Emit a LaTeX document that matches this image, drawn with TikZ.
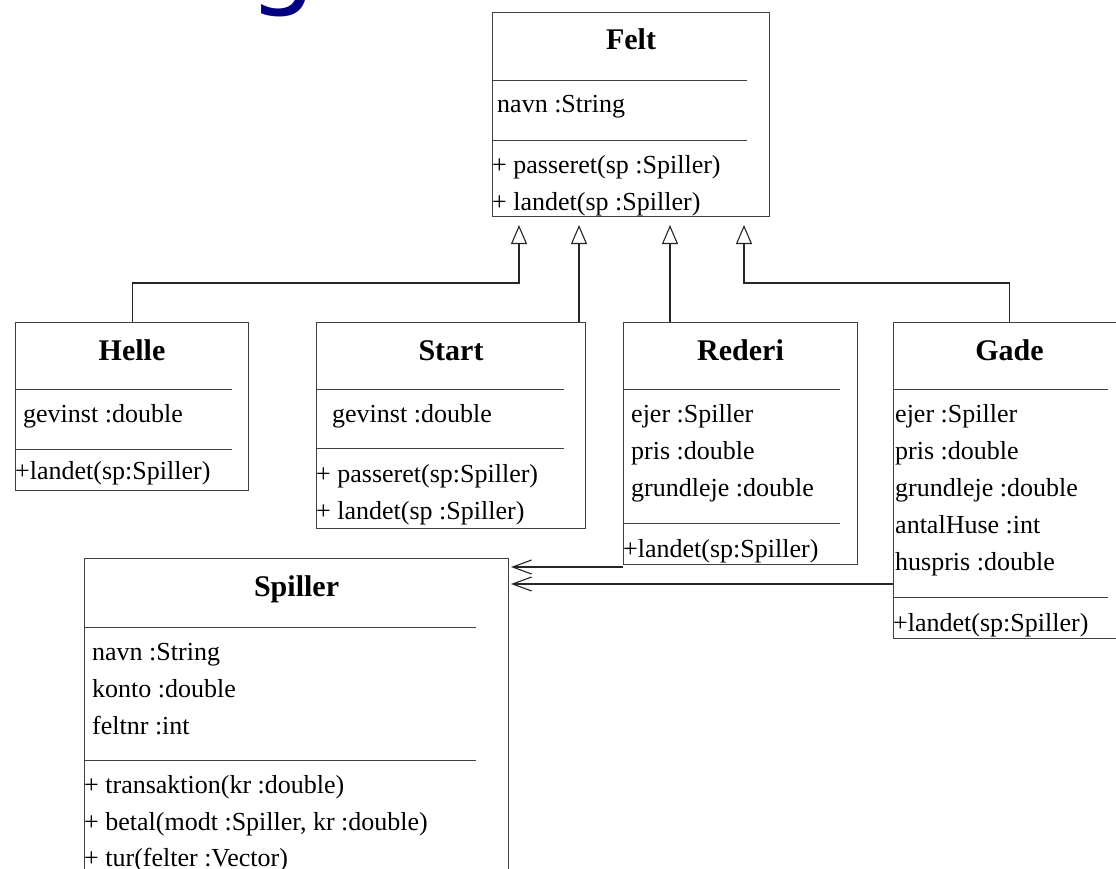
\documentclass[tikz,border=0pt]{standalone}
\usepackage{fontspec}
\setmainfont{LiberationSerif}[Extension=.ttf,UprightFont=*-Regular,BoldFont=*-Bold,ItalicFont=*-Italic,BoldItalicFont=*-BoldItalic]
\newfontfamily\headfont{DejaVu Sans}
\usetikzlibrary{arrows.meta}
\definecolor{headblue}{RGB}{0,0,128}
\definecolor{boxline}{RGB}{64,64,64}

\begin{document}
\begin{tikzpicture}[x=1pt,y=-1pt,
    cls/.style={draw=boxline,line width=1.1pt,anchor=north west,inner sep=0pt},
    title/.style={anchor=base,inner sep=0pt,font=\bfseries\fontsize{30}{34}\selectfont},
    attr/.style={anchor=base west,inner sep=0pt,font=\fontsize{26}{30}\selectfont},
    sep/.style={draw=boxline,line width=0.9pt},
    inh/.style={draw=black!85,line width=1.1pt,-{Triangle[open,width=16pt,length=19pt,line width=1.1pt]}},
    assoc/.style={draw=black!85,line width=1.1pt,-{Straight Barb[length=19pt,width=14pt,line width=1.1pt]}}]
  \path[use as bounding box] (0,0) rectangle (1116,869);
  \clip (0,0) rectangle (1116,869);
  \node[anchor=base west,inner sep=0pt,text=headblue,font=\headfont\fontsize{108}{120}\selectfont] (heading) at (248,-5.5) {g}; % cut heading
  % class Felt
  \node[cls,minimum width=277pt,minimum height=204pt] (felt) at (492,12) {};
  \node[title] (felt-name) at (felt.north |- 0,50) {Felt};
  \draw[sep] (felt.west |- 0,80) -- (747,80);
  \node[attr] (felt-a1) at (497,113) {navn :String};
  \draw[sep] (felt.west |- 0,140) -- (747,140);
  \node[attr] (felt-m1) at (492,174) {+ passeret(sp :Spiller)};
  \node[attr] (felt-m2) at (492,211) {+ landet(sp :Spiller)};
  % class Helle
  \node[cls,minimum width=233pt,minimum height=168pt] (helle) at (15,322) {};
  \node[title] (helle-name) at (helle.north |- 0,360) {Helle};
  \draw[sep] (helle.west |- 0,389) -- (232,389);
  \node[attr] (helle-a1) at (23,422) {gevinst :double};
  \draw[sep] (helle.west |- 0,449) -- (232,449);
  \node[attr] (helle-m1) at (15,479) {+landet(sp:Spiller)};
  % class Start
  \node[cls,minimum width=269pt,minimum height=206pt] (start) at (316,322) {};
  \node[title] (start-name) at (start.north |- 0,360) {Start};
  \draw[sep] (start.west |- 0,389) -- (564,389);
  \node[attr] (start-a1) at (332,422) {gevinst :double};
  \draw[sep] (start.west |- 0,448) -- (564,448);
  \node[attr] (start-m1) at (316,482) {+ passeret(sp:Spiller)};
  \node[attr] (start-m2) at (316,519) {+ landet(sp :Spiller)};
  % class Rederi
  \node[cls,minimum width=234pt,minimum height=242pt] (rederi) at (623,322) {};
  \node[title] (rederi-name) at (rederi.north |- 0,360) {Rederi};
  \draw[sep] (rederi.west |- 0,389) -- (840,389);
  \node[attr] (rederi-a1) at (631,422) {ejer :Spiller};
  \node[attr] (rederi-a2) at (631,459) {pris :double};
  \node[attr] (rederi-a3) at (631,496) {grundleje :double};
  \draw[sep] (rederi.west |- 0,523) -- (840,523);
  \node[attr] (rederi-m1) at (623,557) {+landet(sp:Spiller)};
  % class Gade
  \node[cls,minimum width=232pt,minimum height=316pt] (gade) at (893,322) {};
  \node[title] (gade-name) at (gade.north |- 0,360) {Gade};
  \draw[sep] (gade.west |- 0,389) -- (1108,389);
  \node[attr] (gade-a1) at (895,422) {ejer :Spiller};
  \node[attr] (gade-a2) at (895,459) {pris :double};
  \node[attr] (gade-a3) at (895,496) {grundleje :double};
  \node[attr] (gade-a4) at (895,533) {antalHuse :int};
  \node[attr] (gade-a5) at (895,570) {huspris :double};
  \draw[sep] (gade.west |- 0,597) -- (1108,597);
  \node[attr] (gade-m1) at (893,631) {+landet(sp:Spiller)};
  % class Spiller
  \node[cls,minimum width=424pt,minimum height=342pt] (spiller) at (84,558) {};
  \node[title] (spiller-name) at (spiller.north |- 0,596) {Spiller};
  \draw[sep] (spiller.west |- 0,627) -- (476,627);
  \node[attr] (spiller-a1) at (92,660) {navn :String};
  \node[attr] (spiller-a2) at (92,697) {konto :double};
  \node[attr] (spiller-a3) at (92,734) {feltnr :int};
  \draw[sep] (spiller.west |- 0,760) -- (476,760);
  \node[attr] (spiller-m1) at (84,793) {+ transaktion(kr :double)};
  \node[attr] (spiller-m2) at (84,830) {+ betal(modt :Spiller, kr :double)};
  \node[attr] (spiller-m3) at (84,866) {+ tur(felter :Vector)};
  % arrow tips under Felt and at Spiller
  \coordinate (felt-t1) at (519,225);
  \coordinate (felt-t2) at (579,225);
  \coordinate (felt-t3) at (670,225);
  \coordinate (felt-t4) at (744,225);
  \coordinate (spiller-t1) at (511,567);
  \coordinate (spiller-t2) at (511,584);
  % generalisation
  \draw[inh] (helle.north) -- (helle.north |- 0,283) -| (felt-t1); % Helle -> Felt
  \draw[inh] (start.north -| felt-t2) -- (felt-t2); % Start -> Felt
  \draw[inh] (rederi.north -| felt-t3) -- (felt-t3); % Rederi -> Felt
  \draw[inh] (gade.north) -- (gade.north |- 0,283) -| (felt-t4); % Gade -> Felt
  % association
  \draw[assoc] (rederi.west |- spiller-t1) -- (spiller-t1); % Rederi -> Spiller
  \draw[assoc] (gade.west |- spiller-t2) -- (spiller-t2); % Gade -> Spiller
\end{tikzpicture}
\end{document}
